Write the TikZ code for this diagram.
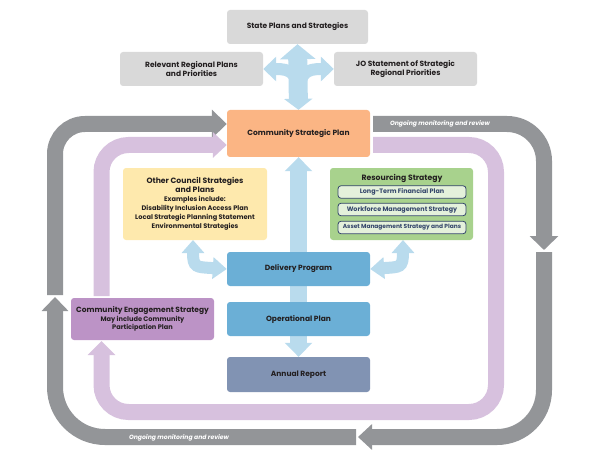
\documentclass[tikz,border=0pt]{standalone}
\usepackage{fontspec}
\setmainfont{Poppins}
\usetikzlibrary{arrows.meta,backgrounds}
\definecolor{boxgray}{HTML}{D9D9D9}
\definecolor{cspor}{HTML}{FBB584}
\definecolor{ylw}{HTML}{FEE9AD}
\definecolor{grn}{HTML}{A8D28D}
\definecolor{subgrn}{HTML}{E4F1DB}
\definecolor{subline}{HTML}{34466B}
\definecolor{dpblue}{HTML}{6BAFD6}
\definecolor{arblue}{HTML}{8193B3}
\definecolor{cespur}{HTML}{BC93C6}
\definecolor{purband}{HTML}{D7C1DE}
\definecolor{loopgray}{HTML}{939598}
\definecolor{lblue}{HTML}{B9DBED}
\definecolor{txt}{HTML}{231F20}
\tikzset{
  box/.style={rounded corners=3pt, inner sep=0pt, align=center, text=txt,
    font=\bfseries\fontsize{7.5}{9.5}\selectfont},
  subbox/.style={rounded corners=3pt, inner sep=0pt, draw=subline, line width=0.8pt,
    fill=subgrn, text=subline, minimum width=128pt, minimum height=12.5pt,
    font=\bfseries\fontsize{6.4}{8}\selectfont},
  gband/.style={draw=loopgray, line width=16pt},
  pband/.style={draw=purband, line width=16pt},
  bband/.style={draw=lblue},
  looplabel/.style={text=white, font=\bfseries\itshape\fontsize{6.1}{8}\selectfont, inner sep=0pt},
}
\begin{document}
\begin{tikzpicture}[x=1pt,y=-1pt]
\useasboundingbox (0,0) rectangle (596,457);

% boxes
\node[box, fill=boxgray, minimum width=141pt, minimum height=34pt] (state) at (297.5,27) {State Plans and Strategies};
\node[box, fill=boxgray, minimum width=143pt, minimum height=34pt] (rel) at (191.5,69) {Relevant Regional Plans\\and Priorities};
\node[box, fill=boxgray, minimum width=143pt, minimum height=34pt] (jo) at (405.5,69) {JO Statement of Strategic\\Regional Priorities};
\node[box, fill=cspor, minimum width=143pt, minimum height=47pt] (csp) at (298.5,133.5) {Community Strategic Plan};
\node[box, fill=ylw, minimum width=144pt, minimum height=72pt, font=\bfseries\fontsize{6.6}{9}\selectfont] (other) at (195,204)
  {{\fontsize{7.7}{9}\selectfont Other Council Strategies}\\{\fontsize{7.7}{9}\selectfont and Plans}\\Examples include:\\Disability Inclusion Access Plan\\Local Strategic Planning Statement\\Environmental Strategies};
\node[box, fill=grn, minimum width=143pt, minimum height=72pt] (res) at (401.5,204) {};
\node[box, font=\bfseries\fontsize{7.7}{9}\selectfont] (restitle) at (402,178) {Resourcing Strategy};
\node[subbox] (ltfp) at (402,192) {Long-Term Financial Plan};
\node[subbox] (wms) at (402,209.5) {Workforce Management Strategy};
\node[subbox, font=\bfseries\fontsize{5.9}{8}\selectfont] (ams) at (402,227.5) {Asset Management Strategy and Plans};
\node[box, fill=dpblue, minimum width=143pt, minimum height=34pt] (dp) at (298.5,269) {Delivery Program};
\node[box, fill=dpblue, minimum width=143pt, minimum height=34pt] (op) at (298.5,319) {Operational Plan};
\node[box, fill=arblue, minimum width=143pt, minimum height=35pt] (ar) at (298.5,374.5) {Annual Report};
\node[box, fill=cespur, minimum width=143pt, minimum height=42pt, font=\bfseries\fontsize{6.6}{8.5}\selectfont] (ces) at (142.5,319)
  {{\fontsize{7.5}{8.5}\selectfont Community Engagement Strategy}\\May include Community\\Participation Plan};

\node[looplabel] (lab1) at (440,124) {Ongoing monitoring and review};
\node[looplabel] (lab2) at (179,438) {Ongoing monitoring and review};

\begin{scope}[on background layer]
  % gray loop
  \draw[gband, rounded corners=37pt, -{Triangle[length=14pt,width=28pt]}] (373,124) -- (544,124) -- (544,250);
  \draw[gband, rounded corners=47pt, -{Triangle[length=14pt,width=25pt]}] (544,252) -- (544,437) -- (358,437);
  \draw[gband, rounded corners=50pt, -{Triangle[length=14pt,width=26pt]}] (356,437) -- (55,437) -- (55,297);
  \draw[gband, rounded corners=30pt, -{Triangle[length=15pt,width=28pt]}] (55,295) -- (55,124) -- (csp.west |- 0,124);
  % purple loop
  \draw[pband, rounded corners=27pt, -{Triangle[length=14pt,width=27pt]}] (373,145) -- (496,145) -- (496,412) -- (101.5,412) -- (101.5,341);
  \draw[pband, rounded corners=27pt, -{Triangle[length=14pt,width=25pt]}] (101.5,296) -- (101.5,145) -- (csp.west |- 0,145);
  % top four-way arrow
  \coordinate (hub) at (298.5,94);
  \draw[bband, line width=19pt, {Triangle[length=15pt,width=35pt]}-{Triangle[length=11pt,width=28pt]}] (state.south) -- (csp.north);
  \draw[bband, line width=12pt, -{Triangle[length=13pt,width=24pt]}] (hub) .. controls (297,72) and (290,69) .. (rel.east);
  \draw[bband, line width=12pt, -{Triangle[length=13pt,width=24pt]}] (hub) .. controls (300,72) and (307,69) .. (jo.west);
  % central arrow
  \draw[bband, line width=17pt, {Triangle[length=14pt,width=27pt]}-{Triangle[length=14pt,width=27pt]}] (ar.north) -- (csp.south);
  % side curved arrows
  \draw[bband, line width=12pt, {Triangle[length=13pt,width=22pt]}-{Triangle[length=14pt,width=21pt]}] (193,240) .. controls (193,268) and (196,267) .. (dp.west);
  \draw[bband, line width=12pt, {Triangle[length=13pt,width=22pt]}-{Triangle[length=14pt,width=21pt]}] (403,240) .. controls (403,268) and (400,267) .. (dp.east);
\end{scope}
\end{tikzpicture}
\end{document}
